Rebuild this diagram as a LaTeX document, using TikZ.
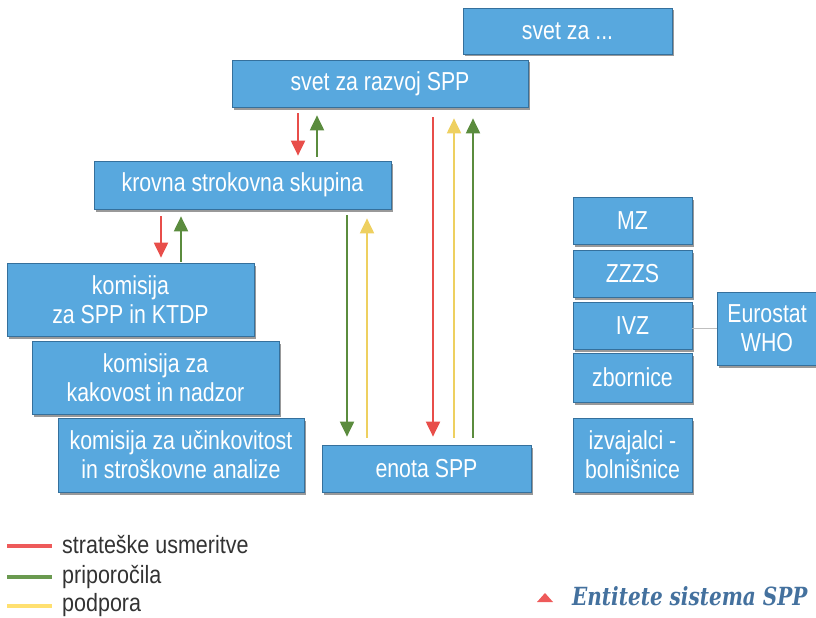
\documentclass[tikz,border=0pt]{standalone}
\usepackage{fontspec}
\setmainfont{Liberation Sans}
\newfontfamily\boxfont{Liberation Sans}[FakeStretch=0.82]
\newfontfamily\legfont{Liberation Sans}[FakeStretch=0.86]
\newfontfamily\titlefont{DejaVu Serif}[FakeStretch=0.8]
\usetikzlibrary{arrows.meta,shadows}
\definecolor{boxblue}{HTML}{58A8DE}
\definecolor{boxedge}{HTML}{35709C}
\definecolor{redc}{HTML}{E84E4A}
\definecolor{greenc}{HTML}{5B8C3E}
\definecolor{yellowc}{HTML}{EED060}
\definecolor{legred}{HTML}{EE5A5A}
\definecolor{leggreen}{HTML}{6A9A50}
\definecolor{legyellow}{HTML}{FFE070}
\definecolor{legtext}{HTML}{333333}
\definecolor{titleblue}{HTML}{44719E}
\begin{document}
\begin{tikzpicture}[x=1pt,y=-1pt,
  box/.style={fill=boxblue, draw=boxedge, line width=0.7pt, text=white,
    font=\boxfont\fontsize{26}{29}\selectfont, align=center, inner sep=0pt,
    drop shadow={shadow xshift=1.5pt, shadow yshift=-2.5pt, opacity=0.4, fill=black}},
  arr/.style={line width=2pt, -{Triangle[width=14pt,length=15pt]}},
  rarr/.style={arr, draw=redc, fill=redc},
  garr/.style={arr, draw=greenc, fill=greenc},
  yarr/.style={arr, draw=yellowc, fill=yellowc},
  legline/.style={line width=4pt},
  legtxt/.style={anchor=base west, text=legtext, inner sep=0pt,
    font=\legfont\fontsize{25}{28}\selectfont}
]
\useasboundingbox (0,0) rectangle (816,618);

% boxes
\node[box, minimum width=209, minimum height=46] (svetza) at (567.5,31) {svet za ...};
\node[box, minimum width=296, minimum height=47] (svet) at (380,83.5) {svet za razvoj SPP};
\node[box, minimum width=297, minimum height=48] (krovna) at (242.5,185) {krovna strokovna skupina};
\node[box, minimum width=247, minimum height=73] (kom1) at (130.5,299.5) {komisija\\za SPP in KTDP};
\node[box, minimum width=247, minimum height=73] (kom2) at (155.5,377.5) {komisija za\\kakovost in nadzor};
\node[box, minimum width=246, minimum height=74] (kom3) at (181,455) {komisija za učinkovitost\\in stroškovne analize};
\node[box, minimum width=209, minimum height=47] (enota) at (426.5,468.5) {enota SPP};
\node[box, minimum width=119, minimum height=47] (mz) at (632.5,220.5) {MZ};
\node[box, minimum width=119, minimum height=47] (zzzs) at (632.5,273.5) {ZZZS};
\node[box, minimum width=119, minimum height=47] (ivz) at (632.5,325.5) {IVZ};
\node[box, minimum width=119, minimum height=49] (zbor) at (632.5,377.5) {zbornice};
\node[box, minimum width=119, minimum height=74] (izv) at (632.5,455) {izvajalci -\\bolnišnice};
\node[box, minimum width=100, minimum height=73] (euro) at (767,328.5) {Eurostat\\WHO};

% connector IVZ - Eurostat
\draw[line width=1.5pt, draw=black!25] (ivz.east |- euro.west) -- (euro.west);

% arrow x-positions
\coordinate (a1) at (298,0);
\coordinate (a2) at (317,0);
\coordinate (a3) at (161,0);
\coordinate (a4) at (181,0);
\coordinate (a5) at (347,0);
\coordinate (a6) at (367,0);
\coordinate (a7) at (433,0);
\coordinate (a8) at (454,0);
\coordinate (a9) at (473,0);

\draw[rarr, shorten <=6pt, shorten >=5pt] (svet.south -| a1) -- (krovna.north -| a1);
\draw[garr, shorten <=4pt, shorten >=8pt] (krovna.north -| a2) -- (svet.south -| a2);
\draw[rarr, shorten <=7pt, shorten >=5pt] (krovna.south -| a3) -- (kom1.north -| a3);
\draw[garr, shorten <=1pt, shorten >=7pt] (kom1.north -| a4) -- (krovna.south -| a4);
\draw[garr, shorten <=6pt, shorten >=8pt] (krovna.south -| a5) -- (enota.north -| a5);
\draw[yarr, shorten <=7pt, shorten >=9pt] (enota.north -| a6) -- (krovna.south -| a6);
\draw[rarr, shorten <=10pt, shorten >=8pt] (svet.south -| a7) -- (enota.north -| a7);
\draw[yarr, shorten <=7pt, shorten >=11pt] (enota.north -| a8) -- (svet.south -| a8);
\draw[garr, shorten <=7pt, shorten >=11pt] (enota.north -| a9) -- (svet.south -| a9);

% legend
\draw[legline, legred] (7,546) -- (52,546);
\draw[legline, leggreen] (7,577) -- (52,577);
\draw[legline, legyellow] (7,606) -- (52,606);
\node[legtxt] (l1) at (62,553) {strateške usmeritve};
\node[legtxt] (l2) at (62,583) {priporočila};
\node[legtxt] (l3) at (62,611) {podpora};

% title
\fill[legred] (537,602) -- (553,602) -- (545,593) -- cycle;
\node[anchor=base west, inner sep=0pt, text=titleblue,
  font=\titlefont\bfseries\itshape\fontsize{25}{28}\selectfont] (title) at (572,605) {Entitete sistema SPP};
\end{tikzpicture}
\end{document}
